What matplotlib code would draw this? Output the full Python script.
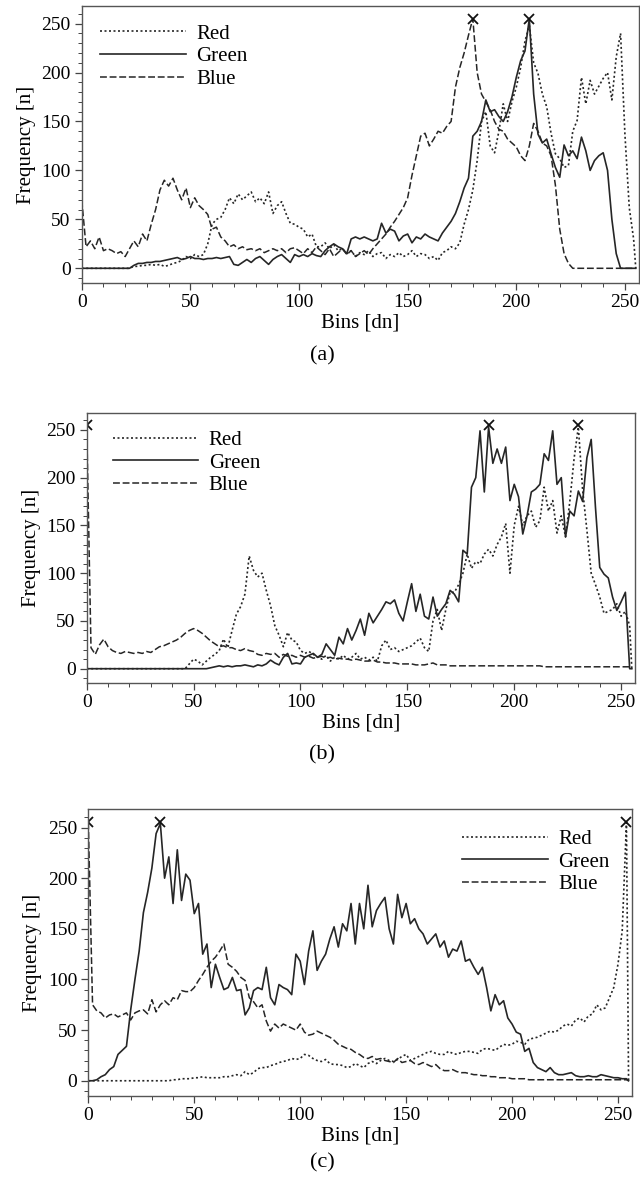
import numpy as np
import matplotlib.pyplot as plt
from matplotlib.ticker import MultipleLocator

plt.rcParams['font.family'] = ['Liberation Serif', 'DejaVu Serif']

# histogram bins (every second bin, plus the last one)
bins = np.append(np.arange(0, 256, 2), 255)

# ---- panel (a) ----
red_a = [0, 0, 0, 0, 0, 0, 0, 0, 0, 0,
         0, 0, 2, 2, 3, 3, 4, 3, 4, 2,
         3, 5, 6, 8, 12, 10, 14, 12, 14, 25,
         45, 50, 52, 60, 72, 66, 76, 70, 74, 78,
         68, 72, 66, 78, 56, 64, 68, 56, 46, 45,
         42, 40, 32, 35, 22, 22, 26, 20, 24, 18,
         20, 15, 18, 12, 16, 14, 18, 12, 15, 16,
         10, 14, 12, 16, 12, 14, 18, 12, 15, 14,
         10, 12, 8, 16, 18, 22, 20, 26, 45, 60,
         80, 110, 150, 160, 125, 118, 140, 168, 150, 170,
         185, 205, 232, 248, 210, 199, 178, 165, 138, 117,
         112, 103, 105, 140, 151, 195, 168, 192, 178, 186,
         194, 200, 172, 216, 240, 137, 62, 30, 0]
green_a = [0, 0, 0, 0, 0, 0, 0, 0, 0, 0,
           0, 0, 3, 5, 5, 6, 6, 7, 7, 8,
           9, 10, 11, 9, 10, 12, 10, 10, 9, 10,
           10, 11, 10, 11, 12, 4, 3, 6, 9, 6,
           10, 12, 8, 4, 9, 12, 14, 10, 6, 14,
           12, 14, 12, 15, 13, 12, 18, 22, 25, 22,
           20, 15, 30, 32, 30, 32, 30, 28, 30, 46,
           36, 40, 38, 28, 33, 35, 26, 32, 30, 35,
           32, 30, 28, 36, 42, 48, 56, 68, 82, 92,
           135, 140, 150, 172, 160, 162, 155, 150, 160, 175,
           195, 212, 222, 255, 178, 137, 128, 132, 117, 103,
           93, 126, 115, 120, 112, 134, 120, 100, 110, 115,
           118, 100, 50, 15, 0, 0, 0, 0, 0]
blue_a = [70, 22, 28, 20, 32, 18, 20, 18, 15, 17,
          12, 20, 28, 22, 35, 28, 45, 60, 80, 90,
          84, 92, 80, 70, 82, 62, 72, 64, 60, 55,
          40, 42, 32, 28, 22, 24, 20, 22, 19, 20,
          18, 20, 16, 18, 20, 18, 20, 16, 20, 21,
          18, 15, 20, 16, 22, 18, 14, 20, 12, 16,
          20, 14, 18, 12, 15, 18, 14, 20, 25, 30,
          35, 42, 48, 55, 62, 72, 95, 115, 135, 138,
          125, 132, 140, 138, 145, 150, 185, 205, 220, 238,
          255, 200, 178, 170, 162, 150, 142, 140, 132, 128,
          124, 115, 110, 125, 148, 140, 128, 125, 115, 85,
          40, 15, 5, 0, 0, 0, 0, 0, 0, 0,
          0, 0, 0, 0, 0, 0, 0, 0, 0]

# ---- panel (b) ----
red_b = [0, 0, 0, 0, 0, 0, 0, 0, 0, 0,
         0, 0, 0, 0, 0, 0, 0, 0, 0, 0,
         0, 0, 0, 0, 5, 10, 8, 4, 8, 12,
         15, 19, 31, 22, 40, 57, 65, 78, 118, 103,
         96, 100, 82, 66, 45, 35, 23, 38, 30, 28,
         19, 16, 18, 15, 12, 10, 14, 8, 12, 10,
         14, 10, 12, 16, 10, 12, 9, 12, 8, 24,
         30, 20, 22, 18, 20, 22, 24, 28, 32, 22,
         18, 50, 62, 40, 62, 80, 80, 88, 100, 120,
         105, 112, 110, 120, 125, 118, 130, 138, 152, 100,
         150, 170, 150, 160, 165, 148, 155, 190, 165, 176,
         142, 160, 138, 175, 220, 253, 187, 145, 100, 88,
         75, 58, 60, 62, 68, 55, 60, 45, 0]
green_b = [0, 0, 0, 0, 0, 0, 0, 0, 0, 0,
           0, 0, 0, 0, 0, 0, 0, 0, 0, 0,
           0, 0, 0, 0, 0, 0, 0, 0, 0, 1,
           2, 3, 2, 3, 2, 3, 3, 4, 3, 2,
           4, 3, 5, 9, 6, 4, 12, 16, 5, 6,
           5, 12, 14, 16, 12, 15, 26, 20, 14, 33,
           26, 42, 30, 40, 52, 35, 58, 48, 55, 62,
           70, 68, 72, 58, 50, 70, 89, 60, 78, 55,
           52, 75, 55, 62, 68, 82, 78, 70, 124, 120,
           190, 200, 249, 185, 253, 215, 230, 215, 232, 176,
           193, 180, 141, 160, 185, 188, 193, 225, 218, 249,
           193, 200, 138, 165, 160, 186, 175, 221, 240, 169,
           106, 99, 95, 75, 61, 70, 80, 0, 0]
blue_b = [255, 22, 15, 25, 31, 23, 19, 17, 16, 18,
          17, 16, 17, 16, 18, 17, 20, 23, 24, 26,
          28, 30, 33, 37, 40, 42, 40, 37, 33, 29,
          26, 23, 24, 22, 22, 20, 19, 21, 19, 18,
          15, 14, 16, 15, 16, 12, 15, 13, 14, 12,
          14, 12, 13, 11, 12, 13, 11, 12, 10, 11,
          10, 10, 9, 10, 9, 8, 8, 9, 7, 7,
          6, 6, 6, 5, 5, 5, 5, 4, 4, 4,
          5, 6, 4, 4, 4, 3, 3, 3, 3, 3,
          3, 3, 3, 3, 3, 3, 3, 3, 3, 3,
          3, 3, 3, 3, 3, 3, 3, 2, 2, 2,
          2, 2, 2, 2, 2, 2, 2, 2, 2, 2,
          2, 2, 2, 2, 2, 2, 2, 2, 0]

# ---- panel (c) ----
red_c = [0, 0, 0, 0, 0, 0, 0, 0, 0, 0,
         0, 0, 0, 0, 0, 0, 0, 0, 0, 0,
         1, 1, 2, 2, 2, 3, 3, 4, 3, 3,
         3, 3, 4, 4, 5, 6, 5, 9, 6, 8,
         12, 13, 13, 15, 16, 18, 19, 20, 22, 21,
         22, 26, 25, 22, 20, 19, 21, 17, 16, 16,
         15, 13, 14, 17, 15, 13, 17, 19, 17, 20,
         22, 20, 19, 21, 24, 26, 20, 22, 24, 26,
         28, 29, 27, 26, 26, 29, 27, 26, 28, 29,
         29, 28, 27, 31, 32, 31, 30, 33, 36, 35,
         36, 39, 38, 36, 41, 42, 43, 45, 47, 49,
         48, 50, 54, 56, 54, 60, 62, 58, 64, 66,
         75, 70, 72, 82, 92, 115, 148, 255, 0]
green_c = [0, 0, 1, 4, 6, 11, 14, 26, 30, 34,
           70, 100, 128, 166, 186, 210, 244, 254, 200, 221,
           175, 228, 178, 204, 198, 165, 175, 125, 135, 92,
           115, 102, 90, 92, 102, 89, 90, 65, 72, 89,
           92, 90, 112, 82, 75, 95, 92, 90, 85, 125,
           118, 95, 128, 148, 109, 118, 125, 140, 152, 132,
           155, 148, 175, 135, 175, 150, 193, 152, 168, 175,
           181, 150, 135, 184, 161, 175, 155, 160, 150, 145,
           135, 140, 145, 132, 138, 122, 130, 128, 138, 118,
           120, 112, 105, 112, 92, 69, 85, 75, 79, 62,
           56, 48, 46, 29, 32, 18, 13, 11, 9, 13,
           8, 6, 6, 7, 8, 5, 4, 4, 5, 4,
           4, 6, 5, 4, 3, 3, 2, 2, 0]
blue_c = [255, 75, 69, 67, 62, 65, 66, 63, 65, 67,
          60, 67, 69, 70, 66, 80, 68, 75, 79, 75,
          82, 80, 89, 88, 88, 92, 99, 105, 112, 118,
          122, 128, 135, 115, 112, 108, 102, 99, 82, 78,
          72, 75, 59, 49, 56, 52, 56, 54, 52, 50,
          56, 48, 45, 46, 49, 47, 45, 43, 40, 36,
          34, 32, 31, 28, 26, 23, 22, 24, 21, 22,
          20, 19, 18, 22, 18, 19, 20, 17, 16, 18,
          16, 14, 16, 12, 10, 10, 11, 9, 8, 8,
          7, 6, 6, 5, 5, 4, 4, 3, 3, 3,
          2, 2, 2, 2, 1, 1, 1, 1, 1, 1,
          1, 1, 1, 1, 1, 1, 1, 1, 1, 1,
          1, 1, 1, 1, 1, 1, 1, 1, 0]

panels = [
    ('(a)', red_a, green_a, blue_a, [0.1277, 0.7624, 0.8708, 0.2326], (0.033, 0.935), 0.701),
    ('(b)', red_b, green_b, blue_b, [0.1355, 0.4265, 0.8567, 0.2270], (0.048, 0.935), 0.366),
    ('(c)', red_c, green_c, blue_c, [0.1380, 0.0798, 0.8491, 0.2407], (0.688, 0.930), 0.024),
]

ink = '#262626'
fig = plt.figure(figsize=(6.4, 11.91), dpi=100)

for tag, red, green, blue, box, leg_xy, cap_y in panels:
    ax = fig.add_axes(box)
    ax.plot(bins, red, color=ink, lw=1.2, ls=(0, (1.2, 1.5)), label='Red')
    ax.plot(bins, green, color=ink, lw=1.2, ls='-', label='Green')
    ax.plot(bins, blue, color=ink, lw=1.1, ls=(0, (4.5, 1.8)), label='Blue')

    # peak markers
    peaks = {int(bins[np.argmax(s)]) for s in (red, green, blue)}
    for p in sorted(peaks):
        ax.plot(p, 255, marker='x', color='#111111', ms=7.5, mew=1.3, ls='none')

    ax.set_xlim(0, 256.5)
    ax.set_ylim(-15, 268)
    ax.xaxis.set_major_locator(MultipleLocator(50))
    ax.xaxis.set_minor_locator(MultipleLocator(10))
    ax.yaxis.set_major_locator(MultipleLocator(50))
    ax.yaxis.set_minor_locator(MultipleLocator(10))
    ax.tick_params(which='major', direction='out', length=5, width=0.9,
                   labelsize=14, pad=3, color='#444444')
    ax.tick_params(which='minor', direction='out', length=3, width=0.7,
                   color='#444444')
    for sp in ax.spines.values():
        sp.set_color('#555555')
        sp.set_linewidth(1.0)

    ax.set_xlabel('Bins [dn]', fontsize=15, labelpad=2)
    ax.set_ylabel('Frequency [n]', fontsize=15, labelpad=4)

    ax.legend(loc='upper left', bbox_to_anchor=leg_xy, frameon=False,
              fontsize=15, handlelength=4.1, handletextpad=0.5,
              labelspacing=0.15, borderpad=0, borderaxespad=0)

    fig.text(0.503, cap_y, tag, ha='center', va='center', fontsize=16)

fig.savefig('out.png', dpi=100)
